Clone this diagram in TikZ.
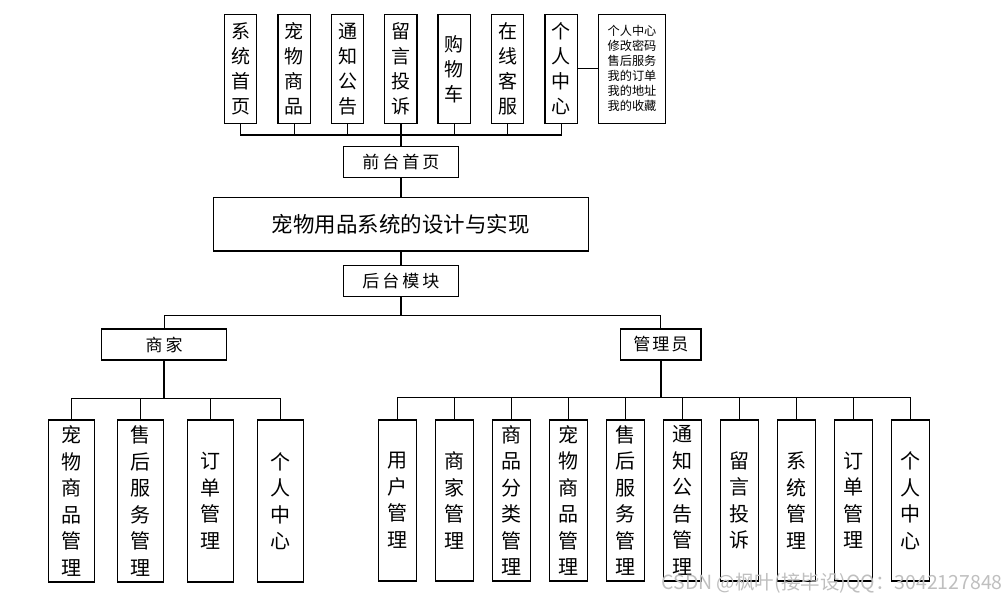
\documentclass[tikz,border=0pt]{standalone}
\usepackage{fontspec}
\newfontfamily\cjk{Noto Sans CJK SC}
\begin{document}
\begin{tikzpicture}[x=1pt,y=-1pt,
  box/.style={draw=black,line width=1.2pt,inner sep=0pt,align=center,fill=white},
  topbox/.style={box,minimum width=32.4pt,minimum height=109pt,font=\cjk\fontsize{19}{25}\selectfont},
  infobox/.style={box,minimum width=67.4pt,minimum height=109pt,font=\cjk\fontsize{12.2}{15}\selectfont},
  hbox/.style={box,minimum height=31pt,font=\cjk\fontsize{17}{20}\selectfont},
  mbox/.style={box,minimum width=46pt,minimum height=162pt,font=\cjk\fontsize{20}{26.5}\selectfont},
  abox/.style={box,minimum width=38pt,minimum height=161pt,font=\cjk\fontsize{20}{26.5}\selectfont},
  conn/.style={line width=1.2pt},
  trunk/.style={line width=1.7pt}]
\useasboundingbox (0,0) rectangle (1007,602);
% top row
\node[topbox] (t1) at (240.5,68.8) {系\\统\\首\\页};
\node[topbox] (t2) at (294.2,68.8) {宠\\物\\商\\品};
\node[topbox] (t3) at (347.5,68.8) {通\\知\\公\\告};
\node[topbox] (t4) at (400.8,68.8) {留\\言\\投\\诉};
\node[topbox] (t5) at (454.2,68.8) {购\\物\\车};
\node[topbox] (t6) at (507.5,68.8) {在\\线\\客\\服};
\node[topbox] (t7) at (561.2,68.8) {个\\人\\中\\心};
\node[infobox] (info) at (632,68.8) {个人中心\\修改密码\\售后服务\\我的订单\\我的地址\\我的收藏};
% middle
\node[hbox,minimum width=115pt] (fq) at (400.8,162.2) {前\kern3pt台\kern3pt首\kern3pt页};
\node[box,minimum width=375pt,minimum height=53.7pt,font=\cjk\fontsize{21.5}{24}\selectfont] (main) at (400.8,224.2) {宠物用品系统的设计与实现};
\node[hbox,minimum width=115pt] (ht) at (400.8,281.2) {后\kern3pt台\kern3pt模\kern3pt块};
\node[hbox,minimum width=125pt] (sj) at (164.2,344.5) {商\kern3pt家};
\node[hbox,minimum width=80.3pt] (gl) at (660.8,344.5) {管\kern2pt理\kern2pt员};
% merchant children
\node[mbox] (m1) at (71.3,501) {宠\\物\\商\\品\\管\\理};
\node[mbox] (m2) at (140.8,501) {售\\后\\服\\务\\管\\理};
\node[mbox] (m3) at (210.8,501) {订\\单\\管\\理};
\node[mbox] (m4) at (280.3,501) {个\\人\\中\\心};
% admin children
\node[abox] (a1) at (397.2,500.5) {用\\户\\管\\理};
\node[abox] (a2) at (454.2,500.5) {商\\家\\管\\理};
\node[abox] (a3) at (511.2,500.5) {商\\品\\分\\类\\管\\理};
\node[abox] (a4) at (568.3,500.5) {宠\\物\\商\\品\\管\\理};
\node[abox] (a5) at (625.2,500.5) {售\\后\\服\\务\\管\\理};
\node[abox] (a6) at (682.2,500.5) {通\\知\\公\\告\\管\\理};
\node[abox] (a7) at (739.2,500.5) {留\\言\\投\\诉};
\node[abox] (a8) at (796.2,500.5) {系\\统\\管\\理};
\node[abox] (a9) at (853.2,500.5) {订\\单\\管\\理};
\node[abox] (a10) at (910.2,500.5) {个\\人\\中\\心};
% bus coordinates
\coordinate (tb) at (400.8,135);
\coordinate (mb) at (400.8,315.7);
\coordinate (sb) at (164.2,398.3);
\coordinate (gb) at (660.8,397.7);
% top connectors
\foreach \n in {t1,t2,t3,t5,t6,t7} \draw[conn] (\n.south) |- (tb);
\draw[trunk] (t4.south) -- (tb) -- (fq.north);
\draw[conn] (t7.east) -- (info.west);
\draw[trunk] (fq.south) -- (main.north);
\draw[trunk] (main.south) -- (ht.north);
\draw[trunk] (ht.south) -- (mb);
\draw[conn] (sj.north) |- (mb);
\draw[conn] (gl.north) |- (mb);
\draw[trunk] (sj.south) -- (sb);
\foreach \n in {m1,m2,m3,m4} \draw[conn] (\n.north) |- (sb);
\draw[trunk] (gl.south) -- (gb);
\foreach \n in {a1,a2,a3,a4,a5,a6,a7,a8,a9,a10} \draw[conn] (\n.north) |- (gb);
% watermark
\node[anchor=east,text=black!25,font=\cjk\fontsize{19.5}{22}\selectfont,inner sep=0pt] (wm) at (1003,583) {CSDN @枫叶(接毕设)QQ：3042127848};
\end{tikzpicture}
\end{document}
